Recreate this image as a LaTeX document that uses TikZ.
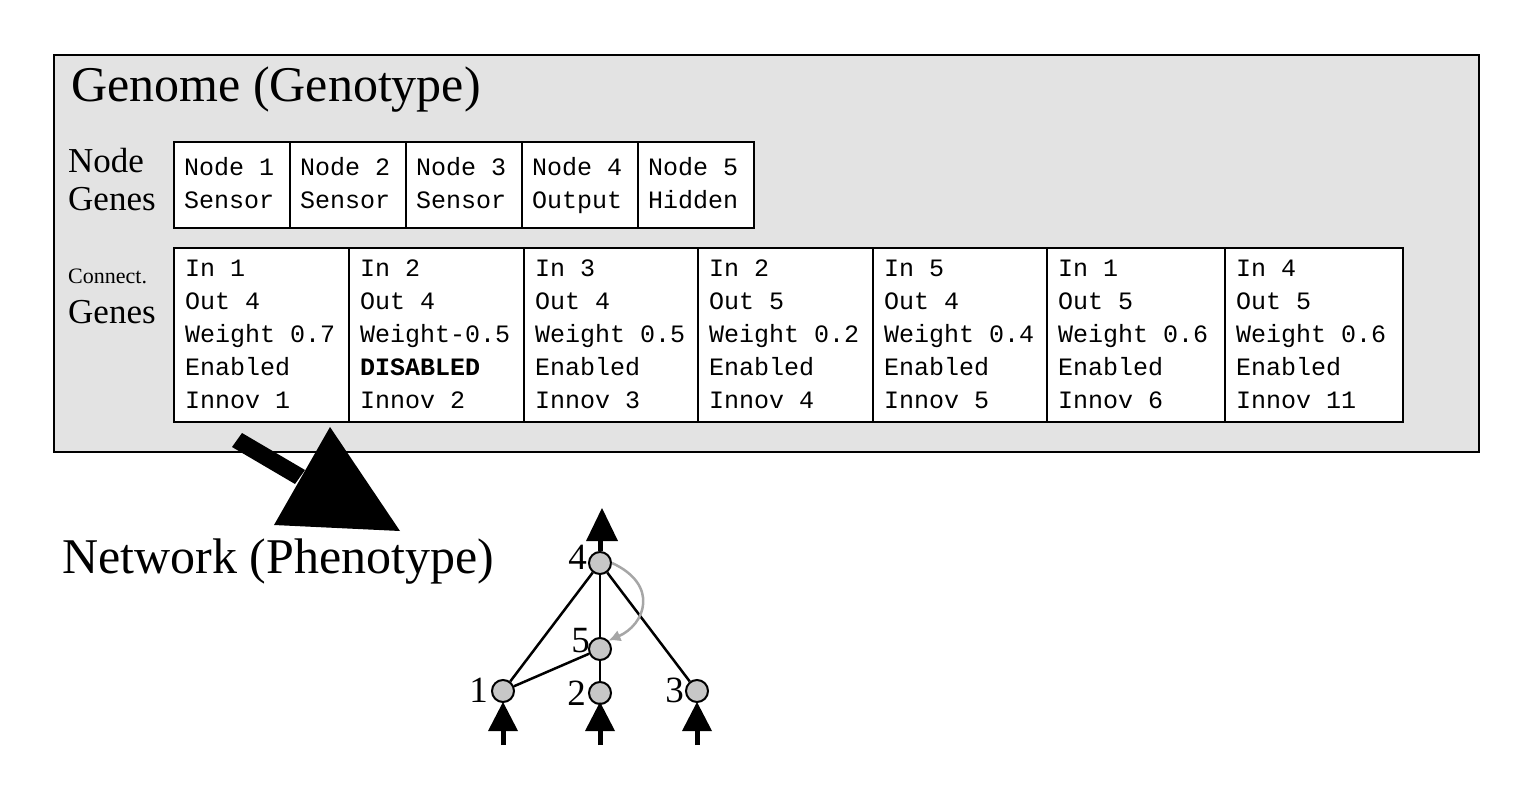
\documentclass[tikz,border=0pt]{standalone}
\usepackage{fontspec}
\usetikzlibrary{arrows.meta}
\setmainfont{Liberation Serif}
\setmonofont{Liberation Mono}
\begin{document}
\begin{tikzpicture}[x=1pt,y=-1pt,
  gbox/.style={draw,line width=2pt,fill=white},
  mono/.style={font=\fontsize{25}{33}\selectfont\ttfamily,anchor=north west,align=left,inner sep=0pt},
  nnode/.style={circle,draw,line width=2pt,fill=black!22,minimum size=22pt,inner sep=0pt},
  nlab/.style={font=\fontsize{37}{37}\selectfont,inner sep=0pt},
  edge/.style={line width=2.5pt}]
\useasboundingbox (0,0) rectangle (1532,795);
\draw[line width=2pt,fill=black!11] (54,55) rectangle (1479,452);
\node[anchor=west,font=\fontsize{50}{50}\selectfont,inner sep=0pt] (title) at (71,90) {Genome (Genotype)};
\node[anchor=west,font=\fontsize{35}{38}\selectfont,align=left,inner sep=0pt] (ng) at (68,180) {Node\\Genes};
\node[anchor=west,font=\fontsize{22}{22}\selectfont,inner sep=0pt] (cg1) at (68,276) {Connect.};
\node[anchor=west,font=\fontsize{35}{35}\selectfont,inner sep=0pt] (cg2) at (68,312) {Genes};
\foreach \a/\b/\t/\s [count=\i] in {174/290/1/Sensor,290/406/2/Sensor,406/522/3/Sensor,522/638/4/Output,638/754/5/Hidden}{
  \draw[gbox] (\a,142) rectangle (\b,228);
  \node[mono] (n\i) at (\a+10,157) {Node \t\\\s};
}
\foreach \a/\b/\ii/\oo/\w/\e/\n [count=\i] in {
 174/349/1/4/{ 0.7}/Enabled/1,
 349/524/2/4/{-0.5}/{\textbf{DISABLED}}/2,
 524/698/3/4/{ 0.5}/Enabled/3,
 698/873/2/5/{ 0.2}/Enabled/4,
 873/1047/5/4/{ 0.4}/Enabled/5,
 1047/1225/1/5/{ 0.6}/Enabled/6,
 1225/1403/4/5/{ 0.6}/Enabled/11}{
  \draw[gbox] (\a,248) rectangle (\b,422);
  \node[mono] (c\i) at (\a+11,260) {In \ii\\Out \oo\\Weight\w\\\e\\Innov \n};
}
% big arrow
\fill (232,447) -- (242,433) -- (305,470) -- (295,484) -- cycle;
\fill (330,427) -- (400,531) -- (274,525) -- cycle;
\node[anchor=west,font=\fontsize{50}{50}\selectfont,inner sep=0pt] (net) at (62,562) {Network (Phenotype)};
% network
\node[nnode] (v4) at (600,563) {};
\node[nnode] (v5) at (600,649) {};
\node[nnode] (v1) at (503,691) {};
\node[nnode] (v2) at (600,693) {};
\node[nnode] (v3) at (697,691) {};
\node[nlab,anchor=east] at (587,557) {4};
\node[nlab,anchor=east] at (590,641) {5};
\node[nlab,anchor=east] at (488,690) {1};
\node[nlab,anchor=east] at (586,693) {2};
\node[nlab,anchor=east] at (684,690) {3};
\draw[edge] (v4) -- (v1);
\draw[edge] (v4) -- (v3);
\draw[edge] (v4) -- (v5);
\draw[edge] (v5) -- (v1);
\draw[edge] (v5) -- (v2);
\draw[line width=2.5pt,black!35,-{Latex[length=12pt,width=12pt]}] (v4.east) .. controls (660,585) and (645,625) .. (v5.north east);
\draw[line width=5pt] (v4.north) -- (600,538);
\fill (602,508) -- (618,541) -- (586,541) -- cycle;
\foreach \v/\x in {v1/503,v2/600,v3/697}{
  \draw[line width=5pt] (\x,745) -- (\x,720);
  \fill (\x,702) -- (\x+15,731) -- (\x-15,731) -- cycle;
}
\end{tikzpicture}
\end{document}
